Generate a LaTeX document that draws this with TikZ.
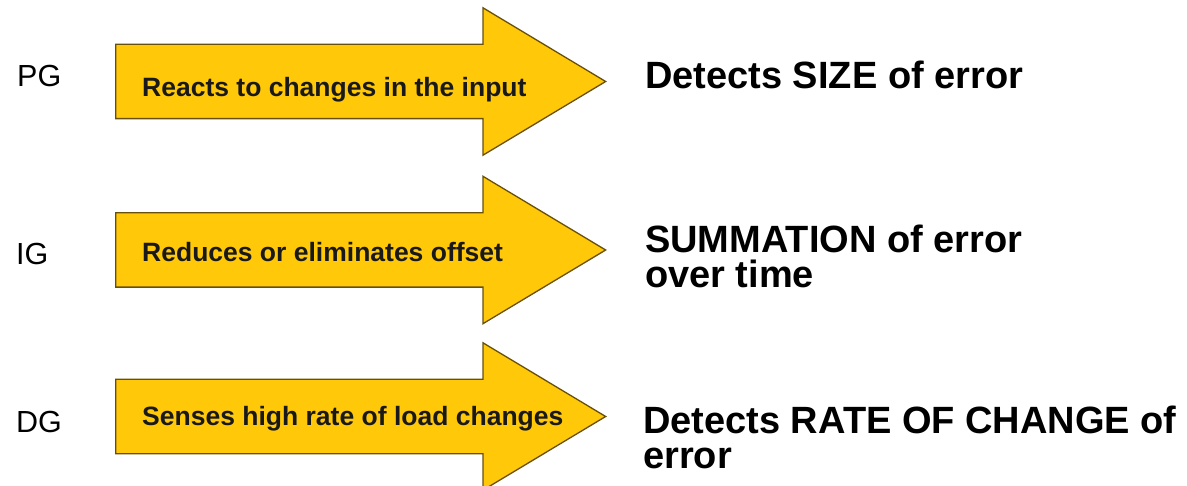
\documentclass[tikz,border=0pt]{standalone}
\usepackage{fontspec}
\setmainfont{Liberation Sans}
\usetikzlibrary{shapes.arrows}

\definecolor{gainfill}{RGB}{255,200,8}
\definecolor{gainedge}{RGB}{105,80,10}

\tikzset{
  gainarrow/.style={single arrow, draw=gainedge, fill=gainfill, line width=1.3pt,
    inner sep=0pt, minimum width=146pt, minimum height=490pt,
    single arrow head extend=36.5pt, single arrow tip angle=62, anchor=tail},
  gainname/.style={inner sep=0pt, anchor=base west, font=\fontsize{30.5}{30.5}\selectfont},
  gaintext/.style={inner sep=0pt, anchor=base west, text=black!90,
    font=\fontsize{26.5}{26.5}\selectfont\bfseries},
  gainnote/.style={inner sep=0pt, anchor=base west, align=left,
    font=\fontsize{38}{35}\selectfont\bfseries}
}

\begin{document}
\begin{tikzpicture}[x=1pt,y=-1pt]
                \useasboundingbox (0,0) rectangle (1187,486);
                \node[gainarrow] (pa) at (115,81.5) {\rule{0pt}{73pt}};
                \node[gainarrow] (ia) at (115,250) {\rule{0pt}{73pt}};
                \node[gainarrow] (da) at (115,416.5) {\rule{0pt}{73pt}};
                \node[gainname] (pg) at (17,87) {PG};
                \node[gainname] (ig) at (16,265) {IG};
                \node[gainname] (dg) at (16,433) {DG};
                \node[gaintext] (pt) at (142,97) {Reacts to changes in the input};
                \node[gaintext] (it) at (142,262) {Reduces or eliminates offset};
                \node[gaintext] (dt) at (142,426) {Senses high rate of load changes};
                % two-line notes sit on the baseline of their last line
                \node[gainnote] (pn) at (645,89) {Detects SIZE of error};
                \node[gainnote] (in) at (645,288) {SUMMATION of error\\over time};
                \node[gainnote] (dn) at (643,468) {Detects RATE OF CHANGE of\\error};
            \end{tikzpicture}
\end{document}
